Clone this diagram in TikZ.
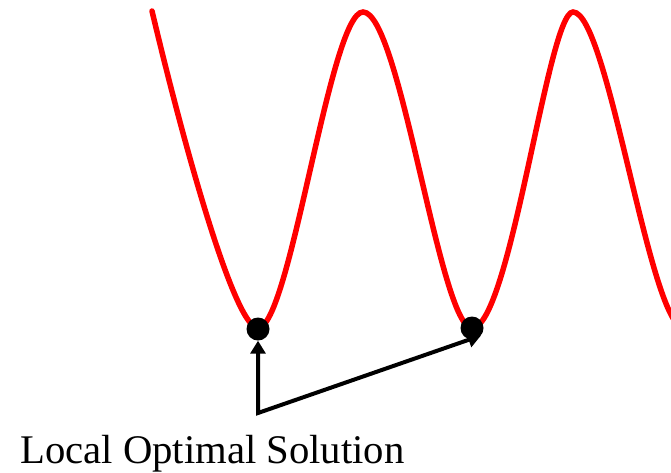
\documentclass[tikz,border=0pt]{standalone}
\usepackage{fontspec}
\setmainfont{Liberation Serif}
\usetikzlibrary{arrows.meta}
\begin{document}
\begin{tikzpicture}[x=1pt,y=-1pt,
  curve/.style={draw=red,line width=5.5pt,line cap=round},
  dot/.style={circle,fill=black,inner sep=0pt,minimum size=23pt},
  pointer/.style={draw=black,line width=4pt,line join=miter,{Triangle[length=13pt,width=15pt]}-{Triangle[length=13pt,width=15pt]}},
  label/.style={font=\fontsize{40.7}{44}\selectfont,inner sep=0pt,anchor=base west}]
\useasboundingbox (0,0) rectangle (671,472);
\begin{scope}
\clip (0,0) rectangle (671,472);
\draw[curve] (152,11) .. controls (185,150) and (235,328) .. (258,328)
  .. controls (290,328) and (330,12) .. (363,12)
  .. controls (400,12) and (440,328) .. (472,328)
  .. controls (510,328) and (548,12) .. (573,12)
  .. controls (608,12) and (650,328) .. (684,328);
\end{scope}
\node[dot] (min1) at (258,329) {};
\node[dot] (min2) at (472,328) {};
\coordinate (src) at (258,413);
\draw[pointer] (min1.south) -- (src) -- (min2.-40);
\node[label] (lbl) at (20,463) {Local Optimal Solution};
\end{tikzpicture}
\end{document}
